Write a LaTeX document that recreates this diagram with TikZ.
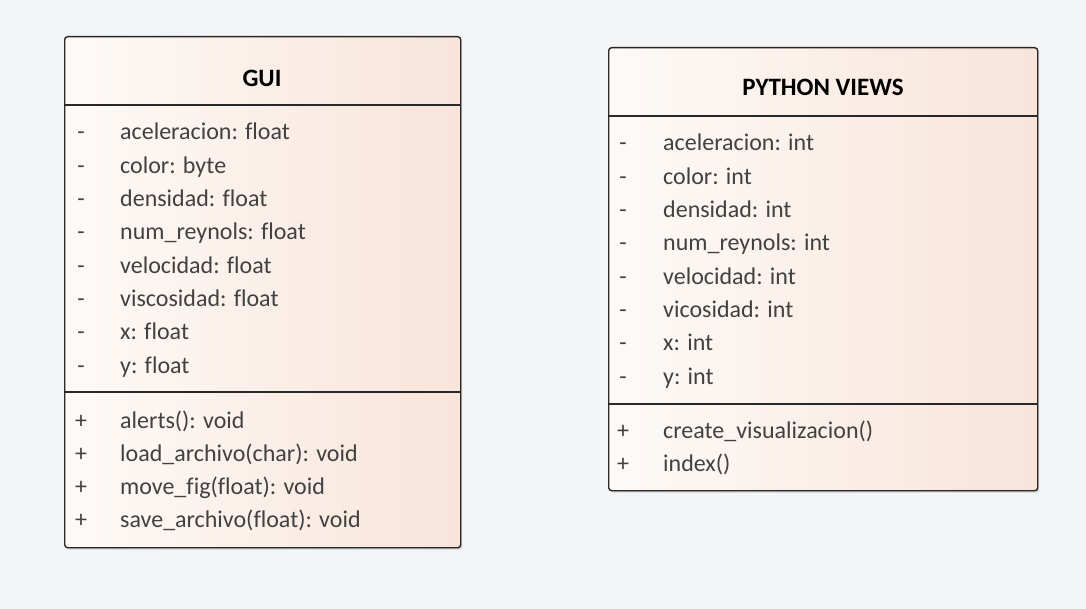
\documentclass[tikz,border=0pt]{standalone}
\usepackage{fontspec}
\setmainfont{Carlito}[Ligatures=NoCommon]
\usetikzlibrary{shadows}
\definecolor{bg}{RGB}{244,245,247}
\definecolor{peachL}{RGB}{253,250,247}
\definecolor{peachR}{RGB}{248,228,218}
\definecolor{edge}{RGB}{40,40,40}
\definecolor{txt}{RGB}{65,65,65}
\begin{document}
\begin{tikzpicture}[x=1pt,y=-1pt,
  classbox/.style={draw=edge, line width=1.4pt, rounded corners=3pt,
    left color=peachL, right color=peachR, inner sep=0pt,
    drop shadow={shadow xshift=1.5pt, shadow yshift=-2pt, opacity=0.3, fill=gray}},
  member/.style={anchor=base west, inner sep=0pt, text=txt, font=\fontsize{24}{27}\selectfont},
  vis/.style={anchor=base, inner sep=0pt, text=txt, font=\fontsize{24}{27}\selectfont},
  title/.style={anchor=base, inner sep=0pt, text=black, font=\bfseries\fontsize{25}{28}\selectfont},
  sep/.style={draw=edge, line width=1.4pt}]
\fill[bg] (0,0) rectangle (1086,609);
\useasboundingbox (0,0) rectangle (1086,609);

% GUI class
\node[classbox, anchor=north west, minimum width=396pt, minimum height=511pt] (gui) at (64,36) {};
\draw[sep] (gui.west |- 0,105) -- (gui.east |- 0,105);
\draw[sep] (gui.west |- 0,392) -- (gui.east |- 0,392);
\node[title] (guiT) at (262,87) {GUI};
\foreach \t [count=\i from 0] in {aceleracion: float, color: byte, densidad: float, num\_reynols: float, velocidad: float, viscosidad: float, x: float, y: float}{
  \node[vis] (guiAv\i) at (81,140+33.3*\i) {-};
  \node[member] (guiA\i) at (120,140+33.3*\i) {\t};
}
\foreach \t [count=\i from 0] in {alerts(): void, load\_archivo(char): void, move\_fig(float): void, save\_archivo(float): void}{
  \node[vis] (guiMv\i) at (81,428+33*\i) {+};
  \node[member] (guiM\i) at (120,428+33*\i) {\t};
}

% PYTHON VIEWS class
\node[classbox, anchor=north west, minimum width=429pt, minimum height=443pt] (pv) at (608,47) {};
\draw[sep] (pv.west |- 0,116) -- (pv.east |- 0,116);
\draw[sep] (pv.west |- 0,404) -- (pv.east |- 0,404);
\node[title] (pvT) at (823,96) {PYTHON VIEWS};
\foreach \t [count=\i from 0] in {aceleracion: int, color: int, densidad: int, num\_reynols: int, velocidad: int, vicosidad: int, x: int, y: int}{
  \node[vis] (pvAv\i) at (623,151+33.3*\i) {-};
  \node[member] (pvA\i) at (663,151+33.3*\i) {\t};
}
\foreach \t [count=\i from 0] in {create\_visualizacion(), index()}{
  \node[vis] (pvMv\i) at (623,438+33*\i) {+};
  \node[member] (pvM\i) at (663,438+33*\i) {\t};
}
\end{tikzpicture}
\end{document}
